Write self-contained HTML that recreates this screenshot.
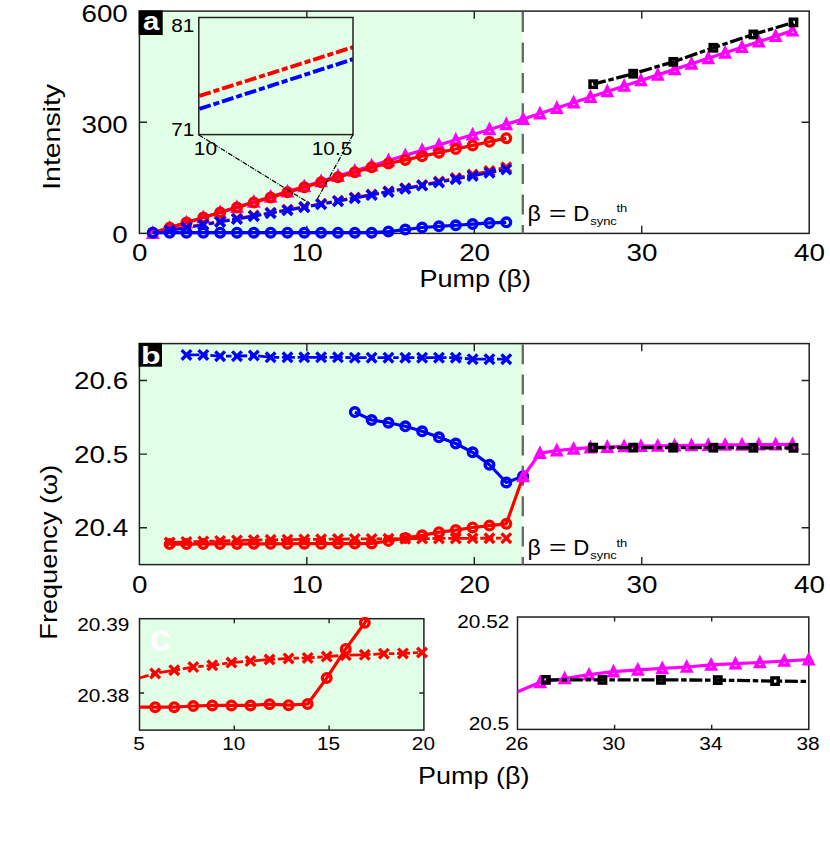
<!DOCTYPE html>
<html><head><meta charset="utf-8"><title>figure</title>
<style>html,body{margin:0;padding:0;background:#fff}svg{display:block}</style>
</head><body>
<svg width="830" height="853" viewBox="0 0 830 853" font-family='"Liberation Sans", sans-serif'>
<defs>
<clipPath id="ca"><rect x="139.4" y="11.1" width="669.8" height="222.3"/></clipPath>
<clipPath id="cb"><rect x="139.4" y="343.6" width="669.8" height="221"/></clipPath>
<clipPath id="cc"><rect x="139.5" y="618.7" width="284.4" height="111.4"/></clipPath>
<clipPath id="cd"><rect x="517.5" y="617" width="291.3" height="112.4"/></clipPath>
<clipPath id="ci"><rect x="198.8" y="17.5" width="154.2" height="117.1"/></clipPath>
</defs>
<rect width="830" height="853" fill="#fff"/>
<g id="pa">
<rect x="139.4" y="11.1" width="383" height="222.3" fill="#e0ffe6"/>
<path d="M306.85 233.4v-7.6M306.85 11.1v7.6M474.3 233.4v-7.6M474.3 11.1v7.6M641.75 233.4v-7.6M641.75 11.1v7.6M139.4 122.25h7.6M809.2 122.25h-7.6" stroke="#222" stroke-width="1.4" fill="none"/>
<rect x="139.4" y="11.1" width="669.8" height="222.3" fill="none" stroke="#222" stroke-width="1.5"/>
<line x1="522.8" y1="12.1" x2="522.8" y2="233.4" stroke="#666" stroke-width="2.3" stroke-dasharray="20 10.4"/>
<polyline points="152.8,233.03 169.63,227.85 186.46,222.68 203.3,217.5 220.13,212.32 236.96,207.14 253.79,201.97 270.63,196.79 287.46,191.61 304.29,186.44 321.13,181.26 337.96,176.08 354.79,170.9 371.63,165.73 388.46,160.55 405.29,155.37 422.13,150.2 438.96,145.02 455.79,139.84 472.63,134.67 489.46,129.49 506.29,124.31 523.12,119.13 539.96,113.6 556.79,108.07 573.62,102.54 590.46,97.01 607.29,91.48 624.12,85.95 640.96,80.42 657.79,74.89 674.62,69.36 691.46,63.83 708.29,58.3 725.12,52.77 741.96,47.23 758.79,41.7 775.62,36.17 792.46,30.64" fill="none" stroke="#f0f" stroke-width="3.2" stroke-linejoin="round"/>
<g fill="none" stroke="#f0f" stroke-width="3.4" stroke-linejoin="miter" stroke-miterlimit="10"><path d="M152.8 228.86L148.63 237.2L156.97 237.2Z"/><path d="M169.63 223.68L165.46 232.02L173.8 232.02Z"/><path d="M186.46 218.51L182.29 226.85L190.63 226.85Z"/><path d="M203.3 213.33L199.13 221.67L207.47 221.67Z"/><path d="M220.13 208.15L215.96 216.49L224.3 216.49Z"/><path d="M236.96 202.97L232.79 211.31L241.13 211.31Z"/><path d="M253.79 197.8L249.62 206.14L257.96 206.14Z"/><path d="M270.63 192.62L266.46 200.96L274.8 200.96Z"/><path d="M287.46 187.44L283.29 195.78L291.63 195.78Z"/><path d="M304.29 182.27L300.12 190.61L308.46 190.61Z"/><path d="M321.13 177.09L316.96 185.43L325.3 185.43Z"/><path d="M337.96 171.91L333.79 180.25L342.13 180.25Z"/><path d="M354.79 166.73L350.62 175.07L358.96 175.07Z"/><path d="M371.63 161.56L367.46 169.9L375.8 169.9Z"/><path d="M388.46 156.38L384.29 164.72L392.63 164.72Z"/><path d="M405.29 151.2L401.12 159.54L409.46 159.54Z"/><path d="M422.13 146.03L417.96 154.37L426.3 154.37Z"/><path d="M438.96 140.85L434.79 149.19L443.13 149.19Z"/><path d="M455.79 135.67L451.62 144.01L459.96 144.01Z"/><path d="M472.63 130.5L468.46 138.84L476.8 138.84Z"/><path d="M489.46 125.32L485.29 133.66L493.63 133.66Z"/><path d="M506.29 120.14L502.12 128.48L510.46 128.48Z"/><path d="M523.12 114.96L518.95 123.3L527.29 123.3Z"/><path d="M539.96 109.43L535.79 117.77L544.13 117.77Z"/><path d="M556.79 103.9L552.62 112.24L560.96 112.24Z"/><path d="M573.62 98.37L569.45 106.71L577.79 106.71Z"/><path d="M590.46 92.84L586.29 101.18L594.63 101.18Z"/><path d="M607.29 87.31L603.12 95.65L611.46 95.65Z"/><path d="M624.12 81.78L619.95 90.12L628.29 90.12Z"/><path d="M640.96 76.25L636.79 84.59L645.13 84.59Z"/><path d="M657.79 70.72L653.62 79.06L661.96 79.06Z"/><path d="M674.62 65.19L670.45 73.53L678.79 73.53Z"/><path d="M691.46 59.66L687.29 68L695.63 68Z"/><path d="M708.29 54.13L704.12 62.47L712.46 62.47Z"/><path d="M725.12 48.6L720.95 56.94L729.29 56.94Z"/><path d="M741.96 43.06L737.79 51.4L746.13 51.4Z"/><path d="M758.79 37.53L754.62 45.87L762.96 45.87Z"/><path d="M775.62 32L771.45 40.34L779.79 40.34Z"/><path d="M792.46 26.47L788.29 34.81L796.62 34.81Z"/></g>
<polyline points="152.8,232.66 169.63,227.62 186.46,222.58 203.3,217.54 220.13,212.5 236.96,207.47 253.79,202.43 270.63,197.39 287.46,192.35 304.29,187.31 321.13,182.27 337.96,177.23 354.79,172.19 371.63,167.15 388.46,163.53 405.29,159.91 422.13,156.28 438.96,152.66 455.79,149.04 472.63,145.41 489.46,141.79 506.29,138.17" fill="none" stroke="#f00" stroke-width="3.2" stroke-linejoin="round"/>
<g fill="none" stroke="#f00" stroke-width="3.4" stroke-linejoin="miter" stroke-miterlimit="10"><circle cx="152.8" cy="232.66" r="4.3"/><circle cx="169.63" cy="227.62" r="4.3"/><circle cx="186.46" cy="222.58" r="4.3"/><circle cx="203.3" cy="217.54" r="4.3"/><circle cx="220.13" cy="212.5" r="4.3"/><circle cx="236.96" cy="207.47" r="4.3"/><circle cx="253.79" cy="202.43" r="4.3"/><circle cx="270.63" cy="197.39" r="4.3"/><circle cx="287.46" cy="192.35" r="4.3"/><circle cx="304.29" cy="187.31" r="4.3"/><circle cx="321.13" cy="182.27" r="4.3"/><circle cx="337.96" cy="177.23" r="4.3"/><circle cx="354.79" cy="172.19" r="4.3"/><circle cx="371.63" cy="167.15" r="4.3"/><circle cx="388.46" cy="163.53" r="4.3"/><circle cx="405.29" cy="159.91" r="4.3"/><circle cx="422.13" cy="156.28" r="4.3"/><circle cx="438.96" cy="152.66" r="4.3"/><circle cx="455.79" cy="149.04" r="4.3"/><circle cx="472.63" cy="145.41" r="4.3"/><circle cx="489.46" cy="141.79" r="4.3"/><circle cx="506.29" cy="138.17" r="4.3"/></g>
<polyline points="169.63,229.94 186.46,227.13 203.3,224.28 220.13,221.42 236.96,218.52 253.79,215.61 270.63,212.66 287.46,209.7 304.29,206.7 321.13,203.69 337.96,200.64 354.79,197.57 371.63,194.48 388.46,191.36 405.29,188.22 422.13,185.05 438.96,181.56 455.79,178.04 472.63,174.5 489.46,170.93 506.29,167.34" fill="none" stroke="#f00" stroke-width="2.8" stroke-linejoin="round" stroke-dasharray="13 2.7 5.5 2.7"/>
<g fill="none" stroke="#f00" stroke-width="3.4" stroke-linejoin="miter" stroke-miterlimit="10"><path d="M164.83 225.14L174.43 234.74M164.83 234.74L174.43 225.14"/><path d="M181.66 222.33L191.26 231.93M181.66 231.93L191.26 222.33"/><path d="M198.5 219.48L208.1 229.08M198.5 229.08L208.1 219.48"/><path d="M215.33 216.62L224.93 226.22M215.33 226.22L224.93 216.62"/><path d="M232.16 213.72L241.76 223.32M232.16 223.32L241.76 213.72"/><path d="M248.99 210.81L258.59 220.41M248.99 220.41L258.59 210.81"/><path d="M265.83 207.86L275.43 217.46M265.83 217.46L275.43 207.86"/><path d="M282.66 204.9L292.26 214.5M282.66 214.5L292.26 204.9"/><path d="M299.49 201.9L309.09 211.5M299.49 211.5L309.09 201.9"/><path d="M316.33 198.89L325.93 208.49M316.33 208.49L325.93 198.89"/><path d="M333.16 195.84L342.76 205.44M333.16 205.44L342.76 195.84"/><path d="M349.99 192.77L359.59 202.37M349.99 202.37L359.59 192.77"/><path d="M366.83 189.68L376.43 199.28M366.83 199.28L376.43 189.68"/><path d="M383.66 186.56L393.26 196.16M383.66 196.16L393.26 186.56"/><path d="M400.49 183.42L410.09 193.02M400.49 193.02L410.09 183.42"/><path d="M417.33 180.25L426.93 189.85M417.33 189.85L426.93 180.25"/><path d="M434.16 176.76L443.76 186.36M434.16 186.36L443.76 176.76"/><path d="M450.99 173.24L460.59 182.84M450.99 182.84L460.59 173.24"/><path d="M467.83 169.7L477.43 179.3M467.83 179.3L477.43 169.7"/><path d="M484.66 166.13L494.26 175.73M484.66 175.73L494.26 166.13"/><path d="M501.49 162.54L511.09 172.14M501.49 172.14L511.09 162.54"/></g>
<polyline points="169.63,230.5 186.46,227.68 203.3,224.84 220.13,221.97 236.96,219.08 253.79,216.16 270.63,213.22 287.46,210.25 304.29,207.26 321.13,204.24 337.96,201.2 354.79,198.13 371.63,195.04 388.46,191.92 405.29,188.77 422.13,185.6 438.96,182.41 455.79,179.19 472.63,175.95 489.46,172.68 506.29,169.38" fill="none" stroke="#00f" stroke-width="2.8" stroke-linejoin="round" stroke-dasharray="13 2.7 5.5 2.7"/>
<g fill="none" stroke="#00f" stroke-width="3.4" stroke-linejoin="miter" stroke-miterlimit="10"><path d="M164.83 225.7L174.43 235.3M164.83 235.3L174.43 225.7"/><path d="M181.66 222.88L191.26 232.48M181.66 232.48L191.26 222.88"/><path d="M198.5 220.04L208.1 229.64M198.5 229.64L208.1 220.04"/><path d="M215.33 217.17L224.93 226.77M215.33 226.77L224.93 217.17"/><path d="M232.16 214.28L241.76 223.88M232.16 223.88L241.76 214.28"/><path d="M248.99 211.36L258.59 220.96M248.99 220.96L258.59 211.36"/><path d="M265.83 208.42L275.43 218.02M265.83 218.02L275.43 208.42"/><path d="M282.66 205.45L292.26 215.05M282.66 215.05L292.26 205.45"/><path d="M299.49 202.46L309.09 212.06M299.49 212.06L309.09 202.46"/><path d="M316.33 199.44L325.93 209.04M316.33 209.04L325.93 199.44"/><path d="M333.16 196.4L342.76 206M333.16 206L342.76 196.4"/><path d="M349.99 193.33L359.59 202.93M349.99 202.93L359.59 193.33"/><path d="M366.83 190.24L376.43 199.84M366.83 199.84L376.43 190.24"/><path d="M383.66 187.12L393.26 196.72M383.66 196.72L393.26 187.12"/><path d="M400.49 183.97L410.09 193.57M400.49 193.57L410.09 183.97"/><path d="M417.33 180.8L426.93 190.4M417.33 190.4L426.93 180.8"/><path d="M434.16 177.61L443.76 187.21M434.16 187.21L443.76 177.61"/><path d="M450.99 174.39L460.59 183.99M450.99 183.99L460.59 174.39"/><path d="M467.83 171.15L477.43 180.75M467.83 180.75L477.43 171.15"/><path d="M484.66 167.88L494.26 177.48M484.66 177.48L494.26 167.88"/><path d="M501.49 164.58L511.09 174.18M501.49 174.18L511.09 164.58"/></g>
<polyline points="152.8,232.66 169.63,232.66 186.46,232.66 203.3,232.66 220.13,232.66 236.96,232.66 253.79,232.66 270.63,232.66 287.46,232.66 304.29,232.66 321.13,232.66 337.96,232.66 354.79,232.66 371.63,232.66 388.46,231.55 405.29,229.55 422.13,227.51 438.96,226.36 455.79,225.25 472.63,224.06 489.46,222.91 506.29,222.28" fill="none" stroke="#00f" stroke-width="3.2" stroke-linejoin="round"/>
<g fill="none" stroke="#00f" stroke-width="3.4" stroke-linejoin="miter" stroke-miterlimit="10"><circle cx="152.8" cy="232.66" r="4.3"/><circle cx="169.63" cy="232.66" r="4.3"/><circle cx="186.46" cy="232.66" r="4.3"/><circle cx="203.3" cy="232.66" r="4.3"/><circle cx="220.13" cy="232.66" r="4.3"/><circle cx="236.96" cy="232.66" r="4.3"/><circle cx="253.79" cy="232.66" r="4.3"/><circle cx="270.63" cy="232.66" r="4.3"/><circle cx="287.46" cy="232.66" r="4.3"/><circle cx="304.29" cy="232.66" r="4.3"/><circle cx="321.13" cy="232.66" r="4.3"/><circle cx="337.96" cy="232.66" r="4.3"/><circle cx="354.79" cy="232.66" r="4.3"/><circle cx="371.63" cy="232.66" r="4.3"/><circle cx="388.46" cy="231.55" r="4.3"/><circle cx="405.29" cy="229.55" r="4.3"/><circle cx="422.13" cy="227.51" r="4.3"/><circle cx="438.96" cy="226.36" r="4.3"/><circle cx="455.79" cy="225.25" r="4.3"/><circle cx="472.63" cy="224.06" r="4.3"/><circle cx="489.46" cy="222.91" r="4.3"/><circle cx="506.29" cy="222.28" r="4.3"/></g>
<polyline points="593.19,84.2 633.24,73.71 673.3,61.86 713.35,47.78 753.41,34.44 793.46,22.4" fill="none" stroke="#000" stroke-width="3.3" stroke-linejoin="round" stroke-dasharray="13 2.7 5.5 2.7"/>
<g fill="none" stroke="#000" stroke-width="3.4" stroke-linejoin="miter" stroke-miterlimit="10"><rect x="589.99" y="81" width="6.4" height="6.4"/><rect x="630.04" y="70.51" width="6.4" height="6.4"/><rect x="670.1" y="58.66" width="6.4" height="6.4"/><rect x="710.15" y="44.58" width="6.4" height="6.4"/><rect x="750.21" y="31.24" width="6.4" height="6.4"/><rect x="790.26" y="19.2" width="6.4" height="6.4"/></g>
<rect x="198.8" y="17.5" width="154.2" height="117.1" fill="#e0ffe6"/>
<g clip-path="url(#ci)" fill="none" stroke-width="3.9" stroke-dasharray="12 2.9 6.1 2.9" stroke-dashoffset="23.4"><line x1="198.8" y1="96.1" x2="353" y2="47.2" stroke="#f00"/><line x1="198.8" y1="109.1" x2="353" y2="59.2" stroke="#00f"/></g>
<rect x="198.8" y="17.5" width="154.2" height="117.1" fill="none" stroke="#222" stroke-width="1.5"/>
<path d="M198.8 134.9L307 201.8M353 134.6L316.5 200.5" stroke="#000" stroke-width="1.2" stroke-dasharray="5 1.3 1 1.3" fill="none"/>
<rect x="138.70000000000002" y="10.4" width="24" height="24.6" fill="#000"/>
<text x="151.1" y="30.2" font-size="26.5" text-anchor="middle" fill="#fff" font-weight="bold" textLength="16.3" lengthAdjust="spacingAndGlyphs">a</text>
</g>
<g id="pb">
<rect x="139.4" y="343.6" width="383" height="221" fill="#e0ffe6"/>
<path d="M306.85 564.6v-7.6M306.85 343.6v7.6M474.3 564.6v-7.6M474.3 343.6v7.6M641.75 564.6v-7.6M641.75 343.6v7.6M139.4 527.77h7.6M809.2 527.77h-7.6M139.4 454.1h7.6M809.2 454.1h-7.6M139.4 380.43h7.6M809.2 380.43h-7.6" stroke="#222" stroke-width="1.4" fill="none"/>
<rect x="139.4" y="343.6" width="669.8" height="221" fill="none" stroke="#222" stroke-width="1.5"/>
<line x1="522.8" y1="344.2" x2="522.8" y2="564.6" stroke="#666" stroke-width="2.3" stroke-dasharray="20 10.4"/>
<polyline points="169.63,544.12 186.46,544.07 203.3,544.02 220.13,543.97 236.96,543.91 253.79,543.86 270.63,543.81 287.46,543.76 304.29,543.71 321.13,543.66 337.96,543.61 354.79,543.55 371.63,543.5 388.46,540.88 405.29,538.08 422.13,535.35 438.96,532.19 455.79,530.05 472.63,527.47 489.46,525.56 506.29,523.79 523.12,476.49" fill="none" stroke="#f00" stroke-width="3.2" stroke-linejoin="round"/>
<g fill="none" stroke="#f00" stroke-width="3.4" stroke-linejoin="miter" stroke-miterlimit="10"><circle cx="169.63" cy="544.12" r="4.3"/><circle cx="186.46" cy="544.07" r="4.3"/><circle cx="203.3" cy="544.02" r="4.3"/><circle cx="220.13" cy="543.97" r="4.3"/><circle cx="236.96" cy="543.91" r="4.3"/><circle cx="253.79" cy="543.86" r="4.3"/><circle cx="270.63" cy="543.81" r="4.3"/><circle cx="287.46" cy="543.76" r="4.3"/><circle cx="304.29" cy="543.71" r="4.3"/><circle cx="321.13" cy="543.66" r="4.3"/><circle cx="337.96" cy="543.61" r="4.3"/><circle cx="354.79" cy="543.55" r="4.3"/><circle cx="371.63" cy="543.5" r="4.3"/><circle cx="388.46" cy="540.88" r="4.3"/><circle cx="405.29" cy="538.08" r="4.3"/><circle cx="422.13" cy="535.35" r="4.3"/><circle cx="438.96" cy="532.19" r="4.3"/><circle cx="455.79" cy="530.05" r="4.3"/><circle cx="472.63" cy="527.47" r="4.3"/><circle cx="489.46" cy="525.56" r="4.3"/><circle cx="506.29" cy="523.79" r="4.3"/><circle cx="523.12" cy="476.49" r="4.3"/></g>
<polyline points="169.63,542.5 186.46,541.91 203.3,541.4 220.13,540.95 236.96,540.46 253.79,540.09 270.63,539.83 287.46,539.66 304.29,539.41 321.13,539.25 337.96,539.1 354.79,538.93 371.63,538.88 388.46,538.78 405.29,538.67 422.13,538.62 438.96,538.46 455.79,538.41 472.63,538.3 489.46,538.23 506.29,538.15" fill="none" stroke="#f00" stroke-width="2.8" stroke-linejoin="round" stroke-dasharray="13 2.7 5.5 2.7"/>
<g fill="none" stroke="#f00" stroke-width="3.4" stroke-linejoin="miter" stroke-miterlimit="10"><path d="M164.83 537.7L174.43 547.3M164.83 547.3L174.43 537.7"/><path d="M181.66 537.11L191.26 546.71M181.66 546.71L191.26 537.11"/><path d="M198.5 536.6L208.1 546.2M198.5 546.2L208.1 536.6"/><path d="M215.33 536.15L224.93 545.75M215.33 545.75L224.93 536.15"/><path d="M232.16 535.66L241.76 545.26M232.16 545.26L241.76 535.66"/><path d="M248.99 535.29L258.59 544.89M248.99 544.89L258.59 535.29"/><path d="M265.83 535.03L275.43 544.63M265.83 544.63L275.43 535.03"/><path d="M282.66 534.86L292.26 544.46M282.66 544.46L292.26 534.86"/><path d="M299.49 534.61L309.09 544.21M299.49 544.21L309.09 534.61"/><path d="M316.33 534.45L325.93 544.05M316.33 544.05L325.93 534.45"/><path d="M333.16 534.3L342.76 543.9M333.16 543.9L342.76 534.3"/><path d="M349.99 534.13L359.59 543.73M349.99 543.73L359.59 534.13"/><path d="M366.83 534.08L376.43 543.68M366.83 543.68L376.43 534.08"/><path d="M383.66 533.98L393.26 543.58M383.66 543.58L393.26 533.98"/><path d="M400.49 533.87L410.09 543.47M400.49 543.47L410.09 533.87"/><path d="M417.33 533.82L426.93 543.42M417.33 543.42L426.93 533.82"/><path d="M434.16 533.66L443.76 543.26M434.16 543.26L443.76 533.66"/><path d="M450.99 533.61L460.59 543.21M450.99 543.21L460.59 533.61"/><path d="M467.83 533.5L477.43 543.1M467.83 543.1L477.43 533.5"/><path d="M484.66 533.43L494.26 543.03M484.66 543.03L494.26 533.43"/><path d="M501.49 533.35L511.09 542.95M501.49 542.95L511.09 533.35"/></g>
<polyline points="186.46,354.89 203.3,354.89 220.13,356.19 236.96,356.19 253.79,355.49 270.63,357.3 287.46,357.3 304.29,357.3 321.13,357.3 337.96,357.3 354.79,357.7 371.63,357.7 388.46,357.7 405.29,357.7 422.13,357.7 438.96,357.7 455.79,357.7 472.63,359.2 489.46,359.2 506.29,359.2" fill="none" stroke="#00f" stroke-width="2.8" stroke-linejoin="round" stroke-dasharray="13 2.7 5.5 2.7"/>
<g fill="none" stroke="#00f" stroke-width="3.4" stroke-linejoin="miter" stroke-miterlimit="10"><path d="M181.66 350.09L191.26 359.69M181.66 359.69L191.26 350.09"/><path d="M198.5 350.09L208.1 359.69M198.5 359.69L208.1 350.09"/><path d="M215.33 351.39L224.93 360.99M215.33 360.99L224.93 351.39"/><path d="M232.16 351.39L241.76 360.99M232.16 360.99L241.76 351.39"/><path d="M248.99 350.69L258.59 360.29M248.99 360.29L258.59 350.69"/><path d="M265.83 352.5L275.43 362.1M265.83 362.1L275.43 352.5"/><path d="M282.66 352.5L292.26 362.1M282.66 362.1L292.26 352.5"/><path d="M299.49 352.5L309.09 362.1M299.49 362.1L309.09 352.5"/><path d="M316.33 352.5L325.93 362.1M316.33 362.1L325.93 352.5"/><path d="M333.16 352.5L342.76 362.1M333.16 362.1L342.76 352.5"/><path d="M349.99 352.9L359.59 362.5M349.99 362.5L359.59 352.9"/><path d="M366.83 352.9L376.43 362.5M366.83 362.5L376.43 352.9"/><path d="M383.66 352.9L393.26 362.5M383.66 362.5L393.26 352.9"/><path d="M400.49 352.9L410.09 362.5M400.49 362.5L410.09 352.9"/><path d="M417.33 352.9L426.93 362.5M417.33 362.5L426.93 352.9"/><path d="M434.16 352.9L443.76 362.5M434.16 362.5L443.76 352.9"/><path d="M450.99 352.9L460.59 362.5M450.99 362.5L460.59 352.9"/><path d="M467.83 354.4L477.43 364M467.83 364L477.43 354.4"/><path d="M484.66 354.4L494.26 364M484.66 364L494.26 354.4"/><path d="M501.49 354.4L511.09 364M501.49 364L511.09 354.4"/></g>
<polyline points="354.79,412.08 371.63,420 388.46,422.7 405.29,426.31 422.13,431.31 438.96,437.32 455.79,443.53 472.63,452.35 489.46,464.77 506.29,482.49 523.12,476.29" fill="none" stroke="#00f" stroke-width="3.2" stroke-linejoin="round"/>
<g fill="none" stroke="#00f" stroke-width="3.4" stroke-linejoin="miter" stroke-miterlimit="10"><circle cx="354.79" cy="412.08" r="4.3"/><circle cx="371.63" cy="420" r="4.3"/><circle cx="388.46" cy="422.7" r="4.3"/><circle cx="405.29" cy="426.31" r="4.3"/><circle cx="422.13" cy="431.31" r="4.3"/><circle cx="438.96" cy="437.32" r="4.3"/><circle cx="455.79" cy="443.53" r="4.3"/><circle cx="472.63" cy="452.35" r="4.3"/><circle cx="489.46" cy="464.77" r="4.3"/><circle cx="506.29" cy="482.49" r="4.3"/><circle cx="523.12" cy="476.29" r="4.3"/></g>
<polyline points="523.12,476.49 539.96,453.14 556.79,450.56 573.62,448.87 590.46,447.62 607.29,447.03 624.12,446.44 640.96,446.14 657.79,445.85 674.62,445.63 691.46,445.41 708.29,445.11 725.12,444.97 741.96,444.82 758.79,444.67 775.62,444.52 792.46,444.38" fill="none" stroke="#f0f" stroke-width="3.2" stroke-linejoin="round"/>
<g fill="none" stroke="#f0f" stroke-width="3.4" stroke-linejoin="miter" stroke-miterlimit="10"><path d="M523.12 472.32L518.95 480.66L527.29 480.66Z"/><path d="M539.96 448.97L535.79 457.31L544.13 457.31Z"/><path d="M556.79 446.39L552.62 454.73L560.96 454.73Z"/><path d="M573.62 444.7L569.45 453.04L577.79 453.04Z"/><path d="M590.46 443.45L586.29 451.79L594.63 451.79Z"/><path d="M607.29 442.86L603.12 451.2L611.46 451.2Z"/><path d="M624.12 442.27L619.95 450.61L628.29 450.61Z"/><path d="M640.96 441.97L636.79 450.31L645.13 450.31Z"/><path d="M657.79 441.68L653.62 450.02L661.96 450.02Z"/><path d="M674.62 441.46L670.45 449.8L678.79 449.8Z"/><path d="M691.46 441.24L687.29 449.58L695.63 449.58Z"/><path d="M708.29 440.94L704.12 449.28L712.46 449.28Z"/><path d="M725.12 440.8L720.95 449.14L729.29 449.14Z"/><path d="M741.96 440.65L737.79 448.99L746.13 448.99Z"/><path d="M758.79 440.5L754.62 448.84L762.96 448.84Z"/><path d="M775.62 440.35L771.45 448.69L779.79 448.69Z"/><path d="M792.46 440.21L788.29 448.55L796.62 448.55Z"/></g>
<polyline points="593.19,447.62 633.24,447.62 673.3,447.69 713.35,447.69 753.41,447.76 793.46,447.84" fill="none" stroke="#000" stroke-width="3.3" stroke-linejoin="round" stroke-dasharray="13 2.7 5.5 2.7"/>
<g fill="none" stroke="#000" stroke-width="3.4" stroke-linejoin="miter" stroke-miterlimit="10"><rect x="589.99" y="444.42" width="6.4" height="6.4"/><rect x="630.04" y="444.42" width="6.4" height="6.4"/><rect x="670.1" y="444.49" width="6.4" height="6.4"/><rect x="710.15" y="444.49" width="6.4" height="6.4"/><rect x="750.21" y="444.56" width="6.4" height="6.4"/><rect x="790.26" y="444.64" width="6.4" height="6.4"/></g>
<rect x="138.70000000000002" y="342.90000000000003" width="23.3" height="23.8" fill="#000"/>
<text x="150.8" y="364.4" font-size="24" text-anchor="middle" fill="#fff" font-weight="bold" textLength="19.6" lengthAdjust="spacingAndGlyphs">b</text>
</g>
<g id="pc">
<rect x="139.5" y="618.7" width="284.4" height="111.4" fill="#e0ffe6"/>
<path d="M234.3 730.1v-4.6M234.3 618.7v4.6M329.1 730.1v-4.6M329.1 618.7v4.6M139.5 692.97h4.6M423.9 692.97h-4.6" stroke="#222" stroke-width="1.4" fill="none"/>
<rect x="139.5" y="618.7" width="284.4" height="111.4" fill="none" stroke="#222" stroke-width="1.5"/>
<polyline points="136.11,707.2 155.17,707.2 174.23,707.2 193.29,706 212.35,705.4 231.41,705.4 250.47,705.4 269.53,704.2 288.59,705.2 307.65,704 326.71,678.1 345.76,648.9 364.82,622.7 383.88,592" fill="none" stroke="#f00" stroke-width="3.2" stroke-linejoin="round" clip-path="url(#cc)"/>
<g fill="none" stroke="#f00" stroke-width="3.4" stroke-linejoin="miter" stroke-miterlimit="10"><circle cx="155.17" cy="707.2" r="4.3"/><circle cx="174.23" cy="707.2" r="4.3"/><circle cx="193.29" cy="706" r="4.3"/><circle cx="212.35" cy="705.4" r="4.3"/><circle cx="231.41" cy="705.4" r="4.3"/><circle cx="250.47" cy="705.4" r="4.3"/><circle cx="269.53" cy="704.2" r="4.3"/><circle cx="288.59" cy="705.2" r="4.3"/><circle cx="307.65" cy="704" r="4.3"/><circle cx="326.71" cy="678.1" r="4.3"/><circle cx="345.76" cy="648.9" r="4.3"/><circle cx="364.82" cy="622.7" r="4.3"/></g>
<polyline points="136.11,679 155.17,673.4 174.23,670.2 193.29,667.1 212.35,665.3 231.41,662.6 250.47,661.1 269.53,659.5 288.59,658.4 307.65,657.9 326.71,656.6 345.76,655.2 364.82,654.8 383.88,653.7 402.94,653.4 422,652.5 441.06,652" fill="none" stroke="#f00" stroke-width="2.8" stroke-linejoin="round" stroke-dasharray="13 2.7 5.5 2.7" clip-path="url(#cc)"/>
<g fill="none" stroke="#f00" stroke-width="3.4" stroke-linejoin="miter" stroke-miterlimit="10"><path d="M150.37 668.6L159.97 678.2M150.37 678.2L159.97 668.6"/><path d="M169.43 665.4L179.03 675M169.43 675L179.03 665.4"/><path d="M188.49 662.3L198.09 671.9M188.49 671.9L198.09 662.3"/><path d="M207.55 660.5L217.15 670.1M207.55 670.1L217.15 660.5"/><path d="M226.61 657.8L236.21 667.4M226.61 667.4L236.21 657.8"/><path d="M245.67 656.3L255.27 665.9M245.67 665.9L255.27 656.3"/><path d="M264.73 654.7L274.33 664.3M264.73 664.3L274.33 654.7"/><path d="M283.79 653.6L293.39 663.2M283.79 663.2L293.39 653.6"/><path d="M302.85 653.1L312.45 662.7M302.85 662.7L312.45 653.1"/><path d="M321.91 651.8L331.51 661.4M321.91 661.4L331.51 651.8"/><path d="M340.96 650.4L350.56 660M340.96 660L350.56 650.4"/><path d="M360.02 650L369.62 659.6M360.02 659.6L369.62 650"/><path d="M379.08 648.9L388.68 658.5M379.08 658.5L388.68 648.9"/><path d="M398.14 648.6L407.74 658.2M398.14 658.2L407.74 648.6"/><path d="M417.2 647.7L426.8 657.3M417.2 657.3L426.8 647.7"/></g>
<text x="160.3" y="651" font-size="38" text-anchor="middle" fill="#fff" font-weight="bold" >c</text>
</g>
<g id="pd">
<path d="M614.6 729.4v-4.6M614.6 617v4.6M711.7 729.4v-4.6M711.7 617v4.6" stroke="#222" stroke-width="1.4" fill="none"/>
<rect x="517.5" y="617" width="291.3" height="112.4" fill="none" stroke="#222" stroke-width="1.5"/>
<polyline points="515.84,692.6 540.24,682.3 564.64,678.5 589.05,674.6 613.45,671.6 637.85,669.8 662.26,668.4 686.66,667 711.06,664.9 735.46,663.7 759.87,662.5 784.27,661 808.67,659.6 833.07,658.5" fill="none" stroke="#f0f" stroke-width="3.2" stroke-linejoin="round" clip-path="url(#cd)"/>
<g fill="none" stroke="#f0f" stroke-width="3.4" stroke-linejoin="miter" stroke-miterlimit="10"><path d="M540.24 678.13L536.07 686.47L544.41 686.47Z"/><path d="M564.64 674.33L560.47 682.67L568.81 682.67Z"/><path d="M589.05 670.43L584.88 678.77L593.22 678.77Z"/><path d="M613.45 667.43L609.28 675.77L617.62 675.77Z"/><path d="M637.85 665.63L633.68 673.97L642.02 673.97Z"/><path d="M662.26 664.23L658.09 672.57L666.43 672.57Z"/><path d="M686.66 662.83L682.49 671.17L690.83 671.17Z"/><path d="M711.06 660.73L706.89 669.07L715.23 669.07Z"/><path d="M735.46 659.53L731.29 667.87L739.63 667.87Z"/><path d="M759.87 658.33L755.7 666.67L764.04 666.67Z"/><path d="M784.27 656.83L780.1 665.17L788.44 665.17Z"/><path d="M808.67 655.43L804.5 663.77L812.84 663.77Z"/></g>
<polyline points="545.9,679.9 602.46,679.9 660.97,679.9 717.77,680.1 775.06,681.1 833.07,681.6" fill="none" stroke="#000" stroke-width="3.3" stroke-linejoin="round" stroke-dasharray="13 2.7 5.5 2.7" clip-path="url(#cd)"/>
<g fill="none" stroke="#000" stroke-width="3.4" stroke-linejoin="miter" stroke-miterlimit="10"><rect x="542.7" y="676.7" width="6.4" height="6.4"/><rect x="599.26" y="676.7" width="6.4" height="6.4"/><rect x="657.77" y="676.7" width="6.4" height="6.4"/><rect x="714.57" y="676.9" width="6.4" height="6.4"/><rect x="771.86" y="677.9" width="6.4" height="6.4"/></g>
</g>
<g id="labels">
<text x="139.7" y="261" font-size="24.74" text-anchor="middle" fill="#000" textLength="15.45" lengthAdjust="spacingAndGlyphs" >0</text>
<text x="307.15" y="261" font-size="24.74" text-anchor="middle" fill="#000" textLength="30.91" lengthAdjust="spacingAndGlyphs" >10</text>
<text x="474.6" y="261" font-size="24.74" text-anchor="middle" fill="#000" textLength="30.91" lengthAdjust="spacingAndGlyphs" >20</text>
<text x="642.05" y="261" font-size="24.74" text-anchor="middle" fill="#000" textLength="30.91" lengthAdjust="spacingAndGlyphs" >30</text>
<text x="809.5" y="261" font-size="24.74" text-anchor="middle" fill="#000" textLength="30.91" lengthAdjust="spacingAndGlyphs" >40</text>
<text x="127.8" y="242.6" font-size="24.74" text-anchor="end" fill="#000" textLength="15.45" lengthAdjust="spacingAndGlyphs" >0</text>
<text x="127.8" y="132.7" font-size="24.74" text-anchor="end" fill="#000" textLength="46.36" lengthAdjust="spacingAndGlyphs" >300</text>
<text x="127.8" y="22.2" font-size="24.74" text-anchor="end" fill="#000" textLength="46.36" lengthAdjust="spacingAndGlyphs" >600</text>
<text x="139.7" y="592.7" font-size="24.74" text-anchor="middle" fill="#000" textLength="15.45" lengthAdjust="spacingAndGlyphs" >0</text>
<text x="307.15" y="592.7" font-size="24.74" text-anchor="middle" fill="#000" textLength="30.91" lengthAdjust="spacingAndGlyphs" >10</text>
<text x="474.6" y="592.7" font-size="24.74" text-anchor="middle" fill="#000" textLength="30.91" lengthAdjust="spacingAndGlyphs" >20</text>
<text x="642.05" y="592.7" font-size="24.74" text-anchor="middle" fill="#000" textLength="30.91" lengthAdjust="spacingAndGlyphs" >30</text>
<text x="809.5" y="592.7" font-size="24.74" text-anchor="middle" fill="#000" textLength="30.91" lengthAdjust="spacingAndGlyphs" >40</text>
<text x="128.2" y="536.37" font-size="24.74" text-anchor="end" fill="#000" textLength="54.09" lengthAdjust="spacingAndGlyphs" >20.4</text>
<text x="128.2" y="462.7" font-size="24.74" text-anchor="end" fill="#000" textLength="54.09" lengthAdjust="spacingAndGlyphs" >20.5</text>
<text x="128.2" y="389.03" font-size="24.74" text-anchor="end" fill="#000" textLength="54.09" lengthAdjust="spacingAndGlyphs" >20.6</text>
<text x="139" y="749.8" font-size="18.53" text-anchor="middle" fill="#000" textLength="11.58" lengthAdjust="spacingAndGlyphs" >5</text>
<text x="233.8" y="749.8" font-size="18.53" text-anchor="middle" fill="#000" textLength="23.15" lengthAdjust="spacingAndGlyphs" >10</text>
<text x="328.6" y="749.8" font-size="18.53" text-anchor="middle" fill="#000" textLength="23.15" lengthAdjust="spacingAndGlyphs" >15</text>
<text x="423.4" y="749.8" font-size="18.53" text-anchor="middle" fill="#000" textLength="23.15" lengthAdjust="spacingAndGlyphs" >20</text>
<text x="129.4" y="631.2" font-size="18.53" text-anchor="end" fill="#000" textLength="52.09" lengthAdjust="spacingAndGlyphs" >20.39</text>
<text x="129.4" y="701.6" font-size="18.53" text-anchor="end" fill="#000" textLength="52.09" lengthAdjust="spacingAndGlyphs" >20.38</text>
<text x="516.7" y="750" font-size="18.53" text-anchor="middle" fill="#000" textLength="23.15" lengthAdjust="spacingAndGlyphs" >26</text>
<text x="613.8" y="750" font-size="18.53" text-anchor="middle" fill="#000" textLength="23.15" lengthAdjust="spacingAndGlyphs" >30</text>
<text x="710.9" y="750" font-size="18.53" text-anchor="middle" fill="#000" textLength="23.15" lengthAdjust="spacingAndGlyphs" >34</text>
<text x="808" y="750" font-size="18.53" text-anchor="middle" fill="#000" textLength="23.15" lengthAdjust="spacingAndGlyphs" >38</text>
<text x="509.4" y="628" font-size="18.53" text-anchor="end" fill="#000" textLength="52.09" lengthAdjust="spacingAndGlyphs" >20.52</text>
<text x="509.2" y="729.7" font-size="18.53" text-anchor="end" fill="#000" textLength="40.51" lengthAdjust="spacingAndGlyphs" >20.5</text>
<text x="194.4" y="31.9" font-size="18.53" text-anchor="end" fill="#000" textLength="23.15" lengthAdjust="spacingAndGlyphs" >81</text>
<text x="194.4" y="135.9" font-size="18.53" text-anchor="end" fill="#000" textLength="23.15" lengthAdjust="spacingAndGlyphs" >71</text>
<text x="205.4" y="155.2" font-size="18.53" text-anchor="middle" fill="#000" textLength="23.15" lengthAdjust="spacingAndGlyphs" >10</text>
<text x="332" y="155.2" font-size="18.53" text-anchor="middle" fill="#000" textLength="40.51" lengthAdjust="spacingAndGlyphs" >10.5</text>
<text x="475.2" y="287" font-size="24.74" text-anchor="middle" fill="#000" textLength="111.34" lengthAdjust="spacingAndGlyphs" >Pump (β)</text>
<text x="473.8" y="784.4" font-size="24.74" text-anchor="middle" fill="#000" textLength="111.34" lengthAdjust="spacingAndGlyphs" >Pump (β)</text>
<text x="60" y="136.9" font-size="24.74" text-anchor="middle" fill="#000" textLength="105.78" lengthAdjust="spacingAndGlyphs" transform="rotate(-90 60 136.9)" >Intensity</text>
<text x="56.6" y="552.2" font-size="24.74" text-anchor="middle" fill="#000" textLength="174.86" lengthAdjust="spacingAndGlyphs" transform="rotate(-90 56.6 552.2)" >Frequency (ω)</text>
<text x="527.6" y="220.5" font-size="21.17" text-anchor="start" fill="#000" textLength="13.27" lengthAdjust="spacingAndGlyphs" >β</text>
<text x="549" y="220.5" font-size="21.17" text-anchor="start" fill="#000" textLength="17.43" lengthAdjust="spacingAndGlyphs" >=</text>
<text x="573.3" y="220.5" font-size="21.17" text-anchor="start" fill="#000" textLength="16.02" lengthAdjust="spacingAndGlyphs" >D</text>
<text x="590.2" y="224.6" font-size="11.81" text-anchor="start" fill="#000" textLength="26.65" lengthAdjust="spacingAndGlyphs" >sync</text>
<text x="616.4" y="212" font-size="10.79" text-anchor="start" fill="#000" textLength="10.88" lengthAdjust="spacingAndGlyphs" >th</text>
<text x="527.6" y="555" font-size="21.17" text-anchor="start" fill="#000" textLength="13.27" lengthAdjust="spacingAndGlyphs" >β</text>
<text x="549" y="555" font-size="21.17" text-anchor="start" fill="#000" textLength="17.43" lengthAdjust="spacingAndGlyphs" >=</text>
<text x="573.3" y="555" font-size="21.17" text-anchor="start" fill="#000" textLength="16.02" lengthAdjust="spacingAndGlyphs" >D</text>
<text x="590.2" y="559.1" font-size="11.81" text-anchor="start" fill="#000" textLength="26.65" lengthAdjust="spacingAndGlyphs" >sync</text>
<text x="616.4" y="546.5" font-size="10.79" text-anchor="start" fill="#000" textLength="10.88" lengthAdjust="spacingAndGlyphs" >th</text>
</g>
</svg>
</body></html>
